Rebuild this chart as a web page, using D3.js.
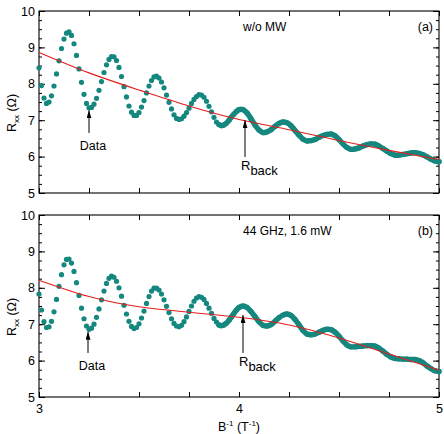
<!DOCTYPE html>
<html>
<head>
<meta charset="utf-8">
<script src="https://cdn.jsdelivr.net/npm/d3@7"></script>
<style>
body { margin: 0; background: #fff; }
text { font-family: "Liberation Sans", Arial, sans-serif; fill: #000; }
</style>
</head>
<body>
<div id="chart"></div>
<script>
// B^-1 values of the plotted points (T^-1)
var xs = [3, 3.0125, 3.025, 3.0375, 3.05, 3.0625, 3.075, 3.0875, 3.1, 3.1125, 3.125, 3.1375,
    3.15, 3.1625, 3.175, 3.1875, 3.2, 3.2125, 3.225, 3.2375, 3.25, 3.2625, 3.275, 3.2875,
    3.3, 3.3125, 3.325, 3.3375, 3.35, 3.3625, 3.375, 3.3875, 3.4, 3.4125, 3.425, 3.4375,
    3.45, 3.4625, 3.475, 3.4875, 3.5, 3.5125, 3.525, 3.5375, 3.55, 3.5625, 3.575, 3.5875,
    3.6, 3.6125, 3.625, 3.6375, 3.65, 3.6625, 3.675, 3.6875, 3.7, 3.7125, 3.725, 3.7375,
    3.75, 3.7625, 3.775, 3.7875, 3.8, 3.8125, 3.825, 3.8375, 3.85, 3.8625, 3.875, 3.8875,
    3.9, 3.9125, 3.925, 3.9375, 3.95, 3.9625, 3.975, 3.9875, 4,
    4.02, 4.04, 4.06, 4.08, 4.1, 4.12, 4.14, 4.16, 4.18, 4.2, 4.22, 4.24, 4.26, 4.28, 4.3,
    4.32, 4.34, 4.36, 4.38, 4.4, 4.42, 4.44, 4.46, 4.48, 4.5, 4.52, 4.54, 4.56, 4.58, 4.6,
    4.62, 4.64, 4.66, 4.68, 4.7, 4.72, 4.74, 4.76, 4.78, 4.8, 4.82, 4.84, 4.86, 4.88, 4.9,
    4.92, 4.94, 4.96, 4.98, 5];

// (a) w/o MW, Rxx (Ohm)
var rA = [8.44, 7.95, 7.61, 7.46, 7.50, 7.67, 7.94, 8.27, 8.63, 8.97, 9.23, 9.39,
    9.43, 9.33, 9.10, 8.78, 8.41, 8.04, 7.71, 7.46, 7.34, 7.35, 7.44, 7.60,
    7.82, 8.06, 8.31, 8.52, 8.67, 8.75, 8.74, 8.64, 8.45, 8.20, 7.92, 7.64,
    7.39, 7.22, 7.13, 7.13, 7.21, 7.36, 7.54, 7.75, 7.94, 8.09, 8.19, 8.21,
    8.16, 8.05, 7.89, 7.69, 7.49, 7.31, 7.15, 7.05, 7.02, 7.04, 7.11, 7.21,
    7.33, 7.46, 7.57, 7.65, 7.70, 7.69, 7.63, 7.52, 7.38, 7.23, 7.08, 6.95,
    6.88, 6.85, 6.87, 6.92, 7.00, 7.09, 7.17, 7.24, 7.29,
    7.29, 7.20, 7.04, 6.87, 6.73, 6.66, 6.68, 6.74, 6.83, 6.91, 6.95, 6.93, 6.85, 6.72, 6.59,
    6.48, 6.43, 6.44, 6.47, 6.53, 6.58, 6.61, 6.62, 6.57, 6.47, 6.35, 6.25, 6.20, 6.21, 6.24,
    6.29, 6.33, 6.35, 6.34, 6.29, 6.22, 6.15, 6.08, 6.04, 6.04, 6.06, 6.08, 6.10, 6.11, 6.09,
    6.05, 5.99, 5.93, 5.88, 5.86];

// (b) 44 GHz, 1.6 mW, Rxx (Ohm)
var rB = [7.83, 7.39, 7.07, 6.91, 6.93, 7.08, 7.34, 7.68, 8.04, 8.36, 8.63, 8.78,
    8.79, 8.68, 8.45, 8.14, 7.79, 7.44, 7.15, 6.95, 6.86, 6.89, 7.00, 7.19,
    7.42, 7.67, 7.91, 8.12, 8.26, 8.32, 8.29, 8.18, 8.00, 7.77, 7.52, 7.28,
    7.08, 6.94, 6.88, 6.91, 7.01, 7.17, 7.36, 7.57, 7.76, 7.91, 7.99, 7.99,
    7.94, 7.83, 7.67, 7.49, 7.32, 7.15, 7.02, 6.95, 6.93, 6.97, 7.07, 7.20,
    7.35, 7.50, 7.63, 7.72, 7.76, 7.74, 7.68, 7.57, 7.44, 7.30, 7.16, 7.06,
    6.98, 6.96, 6.98, 7.03, 7.11, 7.20, 7.30, 7.39, 7.46,
    7.50, 7.46, 7.35, 7.21, 7.07, 6.97, 6.95, 6.99, 7.08, 7.18, 7.25, 7.28, 7.24, 7.13, 6.98,
    6.83, 6.73, 6.71, 6.73, 6.78, 6.83, 6.86, 6.85, 6.78, 6.67, 6.54, 6.43, 6.38, 6.38, 6.39,
    6.40, 6.41, 6.41, 6.40, 6.34, 6.26, 6.17, 6.10, 6.06, 6.05, 6.04, 6.04, 6.03, 6.03, 6.00,
    5.94, 5.85, 5.78, 5.72, 5.70];

// background resistance R_back
var bgX = [3, 3.25, 3.5, 3.75, 4, 4.25, 4.5, 4.75, 5];
var bgA = [8.86, 8.30, 7.83, 7.39, 7.02, 6.74, 6.44, 6.17, 5.92];
var bgB = [8.21, 7.76, 7.48, 7.33, 7.19, 6.98, 6.62, 6.18, 5.74];

var xTicks = [3, 4, 5];
var yTicks = [5, 6, 7, 8, 9, 10];

var teal = "#14877f";
var red = "#e41e1e";

var svg = d3.select("#chart").append("svg")
    .attr("width", 444)
    .attr("height", 434);

svg.append("defs").append("marker")
    .attr("id", "arrow")
    .attr("viewBox", "0 0 10 10")
    .attr("refX", 10)
    .attr("refY", 5)
    .attr("markerUnits", "userSpaceOnUse")
    .attr("markerWidth", 8)
    .attr("markerHeight", 5)
    .attr("preserveAspectRatio", "none")
    .attr("orient", "auto")
    .append("path")
    .attr("d", "M0,0 L10,5 L0,10 z")
    .attr("fill", "#000");

var x = d3.scaleLinear().domain([3, 5]).range([39, 439]);

function drawPanel(top, bottom, ys, bg, label, tag, ann, showX) {
    var y = d3.scaleLinear().domain([5, 10]).range([bottom, top]);
    var g = svg.append("g");
    var minorY = d3.range(5, 10.001, 0.25);
    var minorX = d3.range(3, 5.001, 0.25);

    // ticks, all pointing inward
    g.append("g").attr("transform", "translate(39,0)")
        .call(d3.axisLeft(y).tickValues(minorY).tickSize(-3).tickFormat(""));
    g.append("g").attr("transform", "translate(39,0)")
        .call(d3.axisLeft(y).tickValues(yTicks).tickSize(-6).tickPadding(4).tickFormat(d3.format("d")));
    g.append("g").attr("transform", "translate(439,0)")
        .call(d3.axisRight(y).tickValues(minorY).tickSize(-3).tickFormat(""));
    g.append("g").attr("transform", "translate(439,0)")
        .call(d3.axisRight(y).tickValues(yTicks).tickSize(-6).tickFormat(""));
    g.append("g").attr("transform", "translate(0," + top + ")")
        .call(d3.axisTop(x).tickValues(minorX).tickSize(-5).tickFormat(""));
    g.append("g").attr("transform", "translate(0," + bottom + ")")
        .call(d3.axisBottom(x).tickValues(minorX).tickSize(-5).tickFormat(""));
    if (showX) {
        g.append("g").attr("transform", "translate(0," + bottom + ")")
            .call(d3.axisBottom(x).tickValues(xTicks).tickSize(-5).tickPadding(7).tickFormat(d3.format("d")));
    }
    g.selectAll(".domain").remove();
    g.selectAll(".tick line").attr("stroke", "#000").attr("stroke-width", 1);
    g.selectAll(".tick text").style("font-size", "12.5px").style("font-family", "Liberation Sans, Arial, sans-serif");

    g.append("rect")
        .attr("x", 39).attr("y", top)
        .attr("width", 400).attr("height", bottom - top)
        .attr("fill", "none").attr("stroke", "#000").attr("stroke-width", 1.1);

    var pts = xs.map(function (v, i) { return [v, ys[i]]; });

    // dense part: dots overlap into a band
    g.append("path")
        .datum(pts.filter(function (d) { return d[0] >= 3.9; }))
        .attr("fill", "none")
        .attr("stroke", teal)
        .attr("stroke-width", 5.4)
        .attr("stroke-linecap", "round")
        .attr("d", d3.line().x(function (d) { return x(d[0]); }).y(function (d) { return y(d[1]); })
            .curve(d3.curveCatmullRom));

    g.selectAll("circle.pt")
        .data(pts)
        .enter().append("circle")
        .attr("class", "pt")
        .attr("cx", function (d) { return x(d[0]); })
        .attr("cy", function (d) { return y(d[1]); })
        .attr("r", 2.6)
        .attr("fill", teal);

    g.append("path")
        .datum(bgX.map(function (v, i) { return [v, bg[i]]; }))
        .attr("fill", "none")
        .attr("stroke", red)
        .attr("stroke-width", 1.1)
        .attr("d", d3.line().x(function (d) { return x(d[0]); }).y(function (d) { return y(d[1]); })
            .curve(d3.curveNatural));

    // y axis title
    var yt = g.append("text")
        .attr("transform", "translate(16," + (y(7.5) + 11) + ") rotate(-90)")
        .attr("text-anchor", "middle")
        .style("font-size", "12.5px");
    yt.append("tspan").text("R");
    yt.append("tspan").attr("dy", 3).style("font-size", "8px").text("xx");
    yt.append("tspan").attr("dy", -3).text(" (\u03A9)");

    // condition + panel tag
    g.append("text").attr("x", x(4.02)).attr("y", top + 20)
        .style("font-size", "12px").text(label);
    g.append("text").attr("x", x(4.97)).attr("y", top + 20)
        .attr("text-anchor", "end").style("font-size", "12.5px").text(tag);

    // arrows
    g.append("line")
        .attr("x1", x(ann.dataX)).attr("x2", x(ann.dataX))
        .attr("y1", y(ann.dataTail)).attr("y2", y(ann.dataTip))
        .attr("stroke", "#000").attr("stroke-width", 1)
        .attr("marker-end", "url(#arrow)");
    g.append("text").attr("x", x(ann.dataX) + 4).attr("y", y(ann.dataTail) + 17)
        .attr("text-anchor", "middle").style("font-size", "12.5px").text("Data");

    g.append("line")
        .attr("x1", x(ann.backX)).attr("x2", x(ann.backX))
        .attr("y1", y(ann.backTail)).attr("y2", y(ann.backTip))
        .attr("stroke", "#000").attr("stroke-width", 1)
        .attr("marker-end", "url(#arrow)");
    var rb = g.append("text").attr("x", x(ann.backX) - 4).attr("y", y(ann.backTail) + 13)
        .style("font-size", "13px");
    rb.append("tspan").text("R");
    rb.append("tspan").attr("dy", 5).text("back");
}

drawPanel(11, 193, rA, bgA, "w/o MW", "(a)",
    { dataX: 3.25, dataTail: 6.65, dataTip: 7.27, backX: 4.03, backTail: 5.99, backTip: 7.0 }, false);
drawPanel(215, 397, rB, bgB, "44 GHz, 1.6 mW", "(b)",
    { dataX: 3.245, dataTail: 6.21, dataTip: 6.79, backX: 4.02, backTail: 6.21, backTip: 7.25 }, true);

// x axis title
var xt = svg.append("text")
    .attr("x", x(4))
    .attr("y", 431)
    .attr("text-anchor", "middle")
    .style("font-size", "12.5px");
xt.append("tspan").text("B");
xt.append("tspan").attr("dy", -5).style("font-size", "8px").text("-1");
xt.append("tspan").attr("dy", 5).text(" (T");
xt.append("tspan").attr("dy", -5).style("font-size", "8px").text("-1");
xt.append("tspan").attr("dy", 5).text(")");
</script>
</body>
</html>
